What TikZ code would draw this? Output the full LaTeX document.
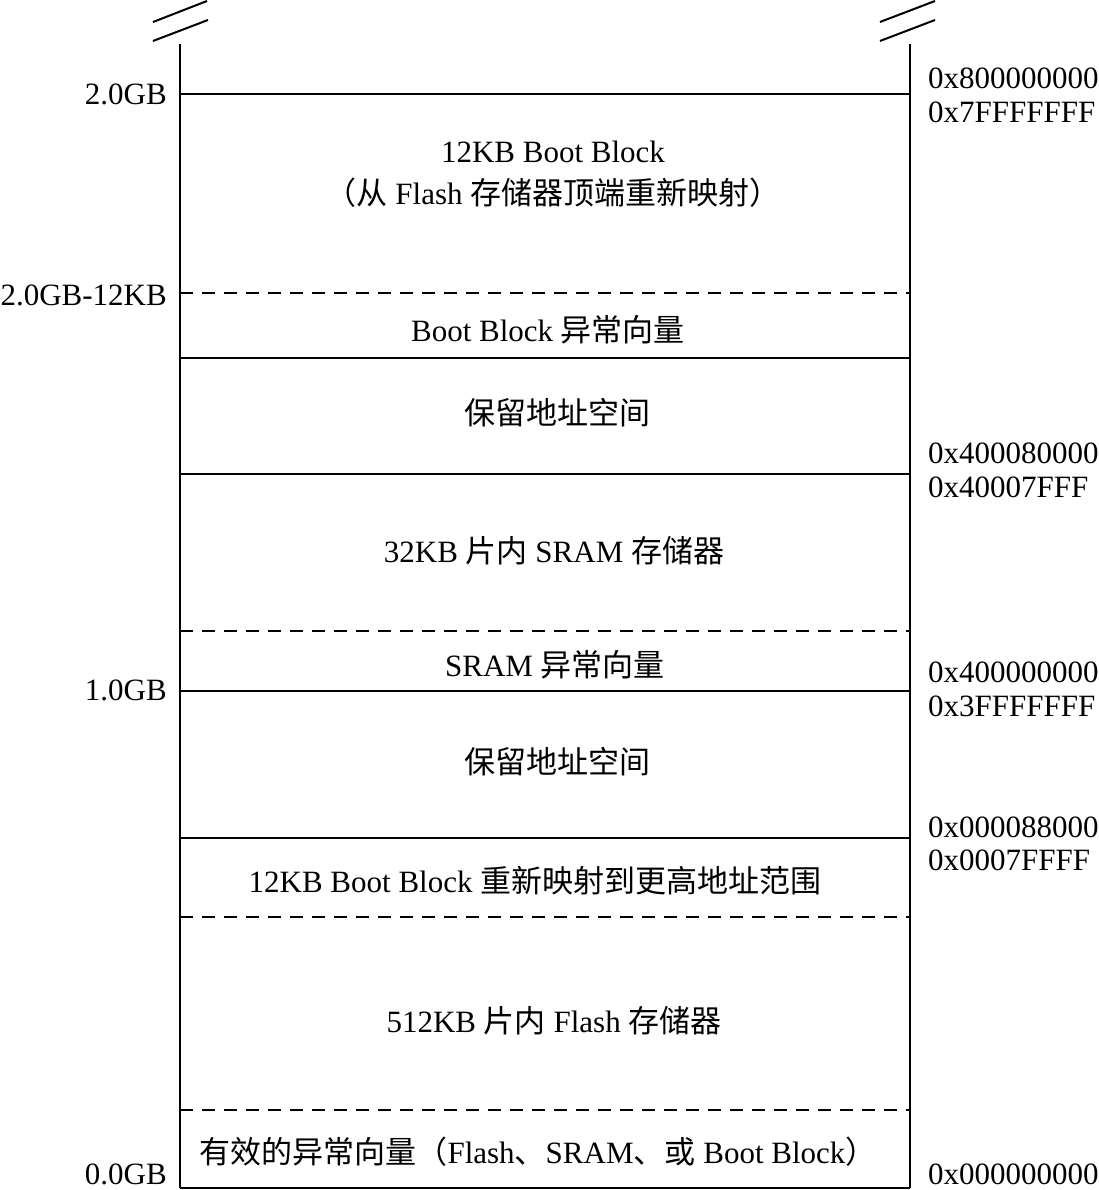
\documentclass[tikz,border=0pt]{standalone}
\usepackage{fontspec}
\setmainfont{Liberation Serif}
\newfontfamily\cjk{Noto Sans CJK SC}
\begin{document}
\begin{tikzpicture}[x={(1pt,0pt)},y={(0pt,-1pt)},
  txt/.style={inner sep=0pt,font=\fontsize{31}{37}\selectfont},
  lbl/.style={txt,anchor=east},
  addr/.style={txt,anchor=west},
  solidline/.style={line width=1.6pt},
  dashline/.style={line width=1.6pt,dash pattern=on 13pt off 9pt},
  wall/.style={line width=2.6pt},
  brk/.style={line width=2pt}]
\useasboundingbox (0,0) rectangle (1099,1190);
% walls
\coordinate (lt) at (180,44);
\coordinate (lb) at (180,1188);
\coordinate (rt) at (910,44);
\coordinate (rb) at (910,1188);
\draw[wall] (lt) -- (lb);
\draw[wall] (rt) -- (rb);
\draw[wall] (lb) -- (rb);
% break marks
\draw[brk] (153,22) -- (207,1);
\draw[brk] (153,41) -- (208,20);
\draw[brk] (880,22) -- (935,1);
\draw[brk] (880,41) -- (935,20);
% horizontal boundaries
\draw[solidline] (180,94) -- (910,94);
\draw[dashline] (180,293) -- (910,293);
\draw[solidline] (180,358) -- (910,358);
\draw[solidline] (180,474) -- (910,474);
\draw[dashline] (180,631) -- (910,631);
\draw[solidline] (180,691) -- (910,691);
\draw[solidline] (180,838) -- (910,838);
\draw[dashline] (180,917) -- (910,917);
\draw[dashline] (180,1110) -- (910,1110);
% left labels
\node[lbl] (g2) at (167,94) {2.0GB};
\node[lbl] (g2k) at (167,295) {2.0GB-12KB};
\node[lbl] (g1) at (167,690) {1.0GB};
\node[lbl] (g0) at (167,1174) {0.0GB};
% right addresses
\node[addr] (a1) at (928,78) {0x800000000};
\node[addr] (a2) at (928,112) {0x7FFFFFFF};
\node[addr] (a3) at (928,453) {0x400080000};
\node[addr] (a4) at (928,487) {0x40007FFF};
\node[addr] (a5) at (928,672) {0x400000000};
\node[addr] (a6) at (928,706) {0x3FFFFFFF};
\node[addr] (a7) at (928,827) {0x000088000};
\node[addr] (a8) at (928,860) {0x0007FFFF};
\node[addr] (a9) at (928,1174) {0x000000000};
% region texts
\node[txt] (t1) at (553,152) {12KB Boot Block};
\node[txt] (t2) at (553,193) {{\cjk （从} Flash {\cjk 存储器顶端重新映射）}};
\node[txt] (t3) at (548,330) {Boot Block {\cjk 异常向量}};
\node[txt] (t4) at (557,413) {\cjk 保留地址空间};
\node[txt] (t5) at (554,551) {32KB {\cjk 片内} SRAM {\cjk 存储器}};
\node[txt] (t6) at (555,665) {SRAM {\cjk 异常向量}};
\node[txt] (t7) at (557,762) {\cjk 保留地址空间};
\node[txt] (t8) at (535,881) {12KB Boot Block {\cjk 重新映射到更高地址范围}};
\node[txt] (t9) at (554,1021) {512KB {\cjk 片内} Flash {\cjk 存储器}};
\node[txt] (t10) at (538,1152) {{\cjk 有效的异常向量（}Flash{\cjk 、}SRAM{\cjk 、或} Boot Block{\cjk ）}};
\end{tikzpicture}
\end{document}
